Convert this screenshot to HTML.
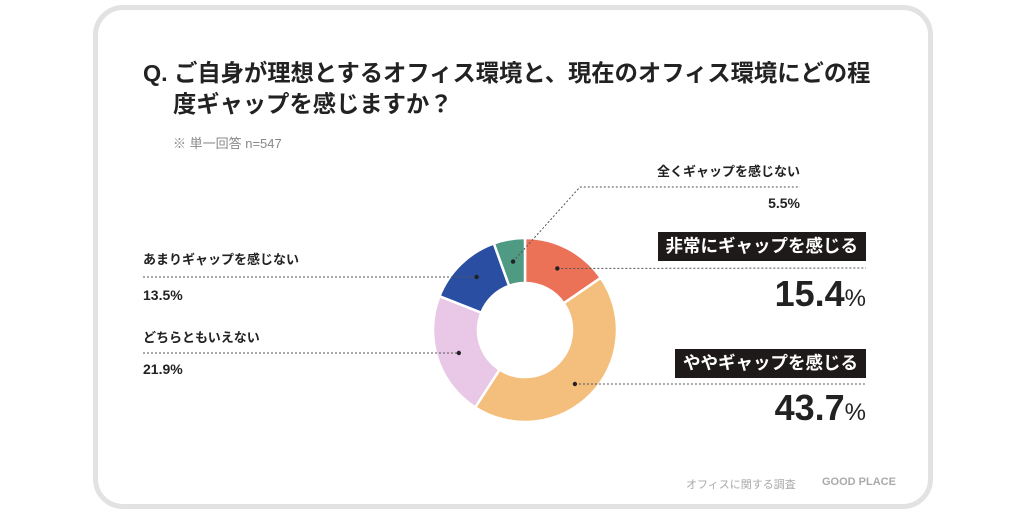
<!DOCTYPE html>
<html><head><meta charset="utf-8"><style>
body{margin:0;width:1024px;height:514px;background:#fff;position:relative;overflow:hidden;font-family:"Liberation Sans","Noto Sans CJK JP",sans-serif;color:#222}
.card{position:absolute;left:93px;top:5px;width:830px;height:494px;border:5px solid #e2e2e2;border-radius:30px}
.t{position:absolute;white-space:nowrap}
.box{position:absolute;background:#1e1a1a;color:#fff;font-size:17.5px;font-weight:bold;height:29px;line-height:29px;padding:0 8px}
</style></head><body>
<div class="card"></div>
<div class="t" style="left:143px;top:58px;font-size:23.3px;font-weight:bold;line-height:31px">Q. ご自身が理想とするオフィス環境と、現在のオフィス環境にどの程<br><span style="padding-left:30px">度ギャップを感じますか？</span></div>
<div class="t" style="left:173px;top:133px;font-size:13px;color:#888">※ 単一回答 n=547</div>
<svg id="chart" width="1024" height="514" style="position:absolute;left:0;top:0"></svg>
<div class="t" style="left:143px;top:249px;font-size:13px;font-weight:bold">あまりギャップを感じない</div>
<div class="t" style="left:143px;top:287px;font-size:14px;font-weight:bold">13.5%</div>
<div class="t" style="left:143px;top:327px;font-size:13px;font-weight:bold">どちらともいえない</div>
<div class="t" style="left:143px;top:361px;font-size:14px;font-weight:bold">21.9%</div>
<div class="t" style="right:224px;top:161px;font-size:13px;font-weight:bold">全くギャップを感じない</div>
<div class="t" style="right:224px;top:195px;font-size:14px;font-weight:bold">5.5%</div>
<div class="box" style="right:158px;top:232px">非常にギャップを感じる</div>
<div class="t" style="right:158px;top:274px;font-size:36px;font-weight:bold;line-height:40px">15.4<span style="font-size:24px;font-weight:normal">%</span></div>
<div class="box" style="right:158px;top:349px">ややギャップを感じる</div>
<div class="t" style="right:158px;top:388px;font-size:36px;font-weight:bold;line-height:40px">43.7<span style="font-size:24px;font-weight:normal">%</span></div>
<div class="t" style="left:686px;top:476px;font-size:11px;color:#aaa">オフィスに関する調査</div>
<div class="t" style="left:822px;top:476px;font-size:11px;color:#aaa;font-weight:bold">GOOD PLACE</div>
<script>
const categories=["非常にギャップを感じる","ややギャップを感じる","どちらともいえない","あまりギャップを感じない","全くギャップを感じない"];
const values=[15.4,43.7,21.9,13.5,5.5];
const colors=["#ec7257","#f4bf7c","#e8c8e6","#2a4ea2","#4e9a83"];
const svg=document.getElementById('chart');
const NS="http://www.w3.org/2000/svg";
const cx=525,cy=330,R=92,r=47;
const total=values.reduce((a,b)=>a+b,0);
function pt(a,rad){return [cx+rad*Math.sin(a),cy-rad*Math.cos(a)];}
let acc=0;const mids=[];
values.forEach((v,i)=>{
 const a0=acc/total*2*Math.PI;acc+=v;const a1=acc/total*2*Math.PI;
 const [x0,y0]=pt(a0,R),[x1,y1]=pt(a1,R),[x2,y2]=pt(a1,r),[x3,y3]=pt(a0,r);
 const lg=(a1-a0)>Math.PI?1:0;
 const p=document.createElementNS(NS,'path');
 p.setAttribute('d',`M${x0},${y0}A${R},${R} 0 ${lg} 1 ${x1},${y1}L${x2},${y2}A${r},${r} 0 ${lg} 0 ${x3},${y3}Z`);
 p.setAttribute('fill',colors[i]);p.setAttribute('stroke','#fff');p.setAttribute('stroke-width','2.5');
 
 
 svg.appendChild(p);
 mids.push(pt((a0+a1)/2,(R+r)/2));
});
function line(pts){const l=document.createElementNS(NS,'polyline');l.setAttribute('points',pts.map(p=>p.join(',')).join(' '));l.setAttribute('fill','none');l.setAttribute('stroke','#555');l.setAttribute('stroke-width','1');l.setAttribute('stroke-dasharray','2,2');


svg.appendChild(l);}
function dot(p){const c=document.createElementNS(NS,'circle');c.setAttribute('cx',p[0]);c.setAttribute('cy',p[1]);c.setAttribute('r',2.2);c.setAttribute('fill','#222');


svg.appendChild(c);}
const ly=[268,384,353,277,187];
line([mids[0],[866,ly[0]]]);line([[mids[1][0],ly[1]],[866,ly[1]]]);
line([[143,ly[2]],[mids[2][0],ly[2]]]);line([[143,ly[3]],[mids[3][0],ly[3]]]);
line([mids[4],[580,ly[4]],[800,ly[4]]]);
mids.forEach((m,i)=>{if(i===0||i===4)dot(m);else dot([m[0],ly[i]]);});
</script>
</body></html>
